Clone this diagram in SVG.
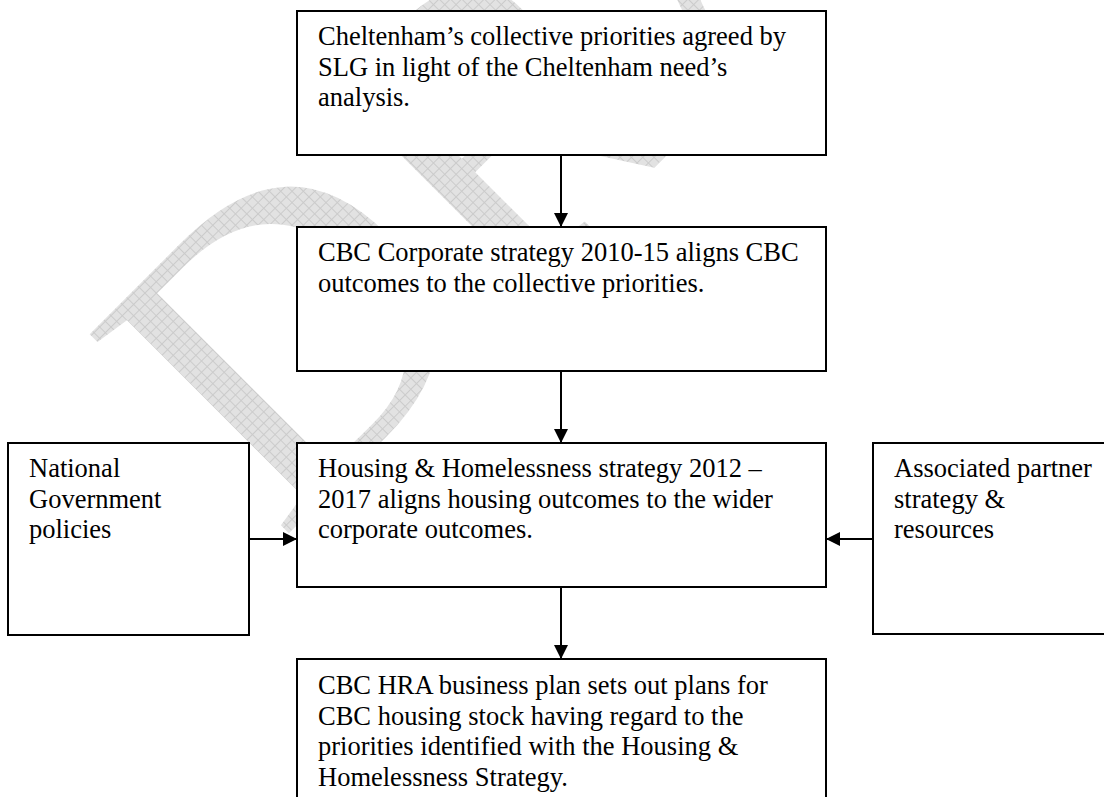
<svg xmlns="http://www.w3.org/2000/svg" width="1104" height="797" viewBox="0 0 1104 797">
  <style>
    .box { fill: #ffffff; stroke: #000000; stroke-width: 2; }
    .lbl { font-family: "Liberation Serif", "Times New Roman", serif; font-size: 26.5px; fill: #000000; }
    .conn { stroke: #000000; stroke-width: 2; fill: none; marker-end: url(#arrow); }
    .wm { font-family: "Liberation Serif", "Times New Roman", serif; font-size: 430px; fill: url(#grid); }
  </style>
  <defs>
    <pattern id="grid" width="8" height="8" patternUnits="userSpaceOnUse">
      <rect width="8" height="8" fill="#e2e2e2"/>
      <path d="M0 0.5H8M0.5 0V8" stroke="#cbcbcb" stroke-width="1"/>
    </pattern>
    <marker id="arrow" markerUnits="userSpaceOnUse" markerWidth="14" markerHeight="14" refX="14" refY="7" orient="auto">
      <path d="M0,0 L14,7 L0,14 z" fill="#000000"/>
    </marker>
  </defs>
  <rect width="1104" height="797" fill="#ffffff"/>

  <g id="watermark">
    <text class="wm" transform="translate(280,542) rotate(-45)">DRAFT</text>
  </g>

  <g id="n1">
    <rect class="box" x="297" y="11" width="529" height="144"/>
    <text class="lbl" x="318" y="45">Cheltenham’s collective priorities agreed by</text>
    <text class="lbl" x="318" y="75.5">SLG in light of the Cheltenham need’s</text>
    <text class="lbl" x="318" y="106">analysis.</text>
  </g>

  <g id="n2">
    <rect class="box" x="297" y="227" width="529" height="144"/>
    <text class="lbl" x="318" y="261">CBC Corporate strategy 2010-15 aligns CBC</text>
    <text class="lbl" x="318" y="291.5">outcomes to the collective priorities.</text>
  </g>

  <g id="n3">
    <rect class="box" x="297" y="443" width="529" height="144"/>
    <text class="lbl" x="318" y="477">Housing &amp; Homelessness strategy 2012 –</text>
    <text class="lbl" x="318" y="507.5">2017 aligns housing outcomes to the wider</text>
    <text class="lbl" x="318" y="538">corporate outcomes.</text>
  </g>

  <g id="n4">
    <rect class="box" x="8" y="443" width="241" height="192"/>
    <text class="lbl" x="29" y="477">National</text>
    <text class="lbl" x="29" y="507.5">Government</text>
    <text class="lbl" x="29" y="538">policies</text>
  </g>

  <g id="n5">
    <rect class="box" x="873" y="443" width="245" height="191"/>
    <text class="lbl" x="894" y="477">Associated partner</text>
    <text class="lbl" x="894" y="507.5">strategy &amp;</text>
    <text class="lbl" x="894" y="538">resources</text>
  </g>

  <g id="n6">
    <rect class="box" x="297" y="659" width="529" height="160"/>
    <text class="lbl" x="318" y="694">CBC HRA business plan sets out plans for</text>
    <text class="lbl" x="318" y="724.5">CBC housing stock having regard to the</text>
    <text class="lbl" x="318" y="755">priorities identified with the Housing &amp;</text>
    <text class="lbl" x="318" y="785.5">Homelessness Strategy.</text>
  </g>

  <g id="connectors">
    <line class="conn" x1="561" y1="155" x2="561" y2="227"/>
    <line class="conn" x1="561" y1="371" x2="561" y2="443"/>
    <line class="conn" x1="561" y1="587" x2="561" y2="659"/>
    <line class="conn" x1="249" y1="539" x2="297" y2="539"/>
    <line class="conn" x1="873" y1="539" x2="826" y2="539"/>
  </g>
</svg>
